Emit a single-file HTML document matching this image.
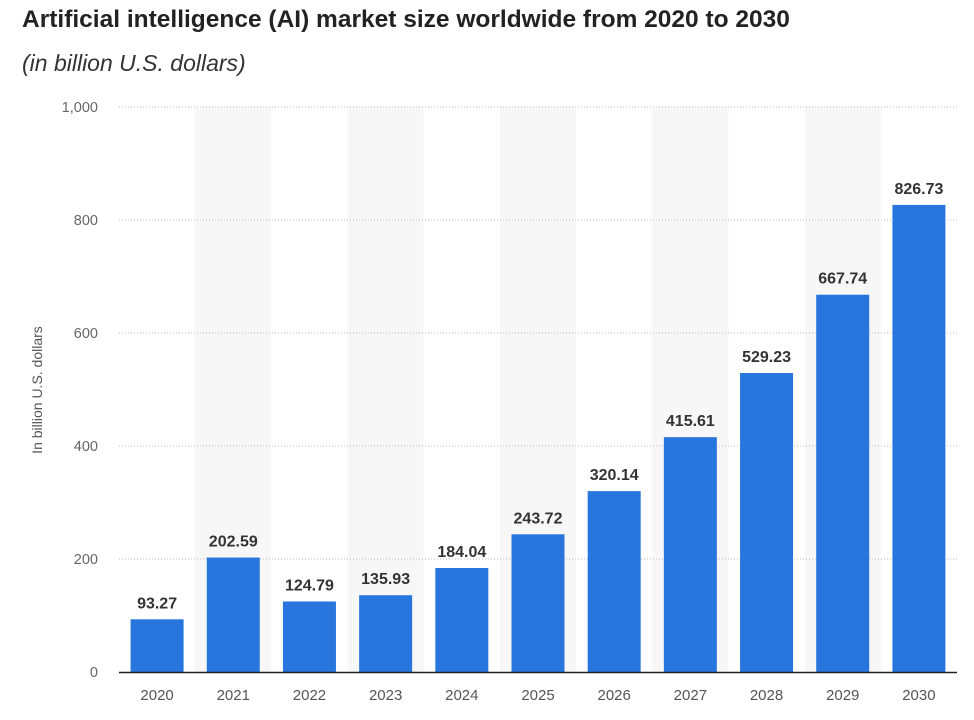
<!DOCTYPE html>
<html><head><meta charset="utf-8"><style>
body{margin:0;background:#fff;width:974px;height:720px;overflow:hidden;font-family:"Liberation Sans",sans-serif}
#title{position:absolute;left:22px;top:6px;font-size:24.5px;font-weight:bold;color:#222;margin:0}
#sub{position:absolute;left:22px;top:50px;font-size:23px;font-style:italic;color:#333}
svg{position:absolute;left:0;top:0}
</style></head><body>
<div id="title">Artificial intelligence (AI) market size worldwide from 2020 to 2030</div>
<div id="sub">(in billion U.S. dollars)</div>
<svg id="chart" width="974" height="720"></svg>
<script>
const categories=["2020","2021","2022","2023","2024","2025","2026","2027","2028","2029","2030"];
const values=[93.27,202.59,124.79,135.93,184.04,243.72,320.14,415.61,529.23,667.74,826.73];
const yTicks=[0,200,400,600,800,1000];
const yTickLabels=["0","200","400","600","800","1,000"];
const NS="http://www.w3.org/2000/svg";
const svg=document.getElementById('chart');
const L=119,R=957,T=107,B=672,yMax=1000;
const step=(R-L)/categories.length;
const y=v=>B-(v/yMax)*(B-T);
const xc=i=>L+step*(i+0.5);
function mk(t,a,txt){const e=document.createElementNS(NS,t);for(const k in a)e.setAttribute(k,a[k]);if(txt!==undefined)e.textContent=txt;svg.appendChild(e);return e;}
categories.forEach((c,i)=>{if(i%2===1){const b=mk('rect',{x:L+step*i,y:T,width:step,height:B-T,fill:'#f7f7f7'});

}});
yTicks.forEach((t,i)=>{
 if(t>0){const g=mk('line',{x1:L,x2:R,y1:y(t),y2:y(t),stroke:'#bbb','stroke-dasharray':'1,2'});
 
 }
 const l=mk('text',{x:98,y:y(t)+5,'text-anchor':'end','font-size':14.5,fill:'#666'},yTickLabels[i]);
 
 
});
const yt=mk('text',{x:42,y:390,'text-anchor':'middle','font-size':14,fill:'#555',transform:'rotate(-90 42 390)'},'In billion U.S. dollars');


categories.forEach((c,i)=>{
 const bw=53;
 const r=mk('rect',{x:xc(i)-bw/2,y:y(values[i]),width:bw,height:B-y(values[i]),fill:'#2876dd'});
 
 
 const v=mk('text',{x:xc(i),y:y(values[i])-11,'text-anchor':'middle','font-size':16,'font-weight':'bold',fill:'#333'},values[i].toFixed(2));
 
 
 const xl=mk('text',{x:xc(i),y:700,'text-anchor':'middle','font-size':15,fill:'#555'},c);
 
 
});
const ax=mk('line',{x1:L,x2:R,y1:B+0.5,y2:B+0.5,stroke:'#222','stroke-width':1.5});


</script>
</body></html>
